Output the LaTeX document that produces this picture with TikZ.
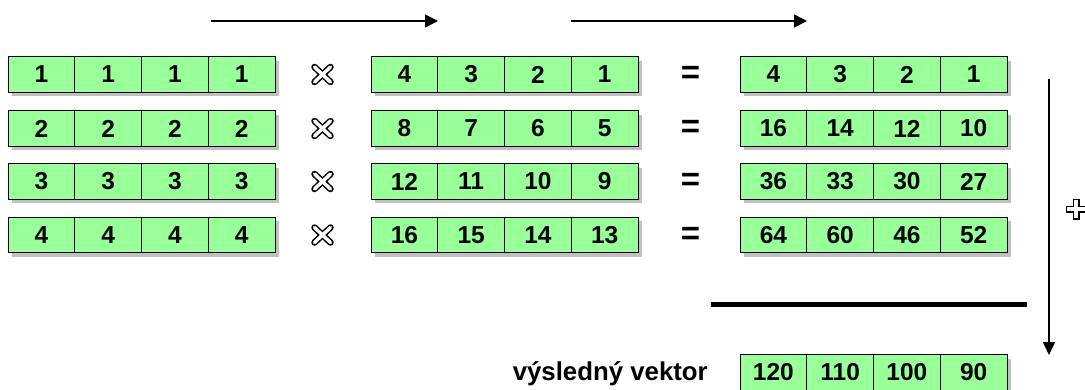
\documentclass[tikz,border=0pt]{standalone}
\usepackage{fontspec}
\setmainfont{Liberation Sans}
\usetikzlibrary{arrows.meta}
\definecolor{cellgreen}{RGB}{153,255,153}
\definecolor{shadowgray}{RGB}{192,192,192}
\tikzset{
  cell/.style={draw=black, line width=1pt, fill=cellgreen, minimum width=66.75pt,
    minimum height=35.5pt, inner sep=0pt, font=\fontsize{24.5}{24.5}\selectfont\bfseries},
  flow/.style={line width=1.5pt, -{Triangle[length=13pt,width=13pt]}},
  eqsign/.style={font=\fontsize{33}{33}\selectfont\bfseries, inner sep=0pt},
  label/.style={font=\fontsize{25.8}{25.8}\selectfont\bfseries, inner sep=0pt},
  rule/.style={line width=5pt},
}
\newcommand\cellrow[4]{%
  \fill[shadowgray] ({#2+4},{#3-17.75+4}) rectangle ({#2+267+4},{#3+17.75+4});
  \foreach \v [count=\i] in {#4} {
    \node[cell] (#1-\i) at ({#2+66.75*(\i-0.5)},#3) {\v};
  }
}
\newcommand\timesmark[2]{%
  \draw[line width=6.5pt, line cap=round] (#1-8,#2-7.5) -- (#1+8,#2+7.5)
    (#1-8,#2+7.5) -- (#1+8,#2-7.5);
  \draw[line width=3.5pt, line cap=round, white] (#1-8,#2-7.5) -- (#1+8,#2+7.5)
    (#1-8,#2+7.5) -- (#1+8,#2-7.5);
}
\begin{document}
\begin{tikzpicture}[x=1pt, y=-1pt]
\useasboundingbox (0,0) rectangle (1085,389);
% top arrows
\coordinate (t1s) at (211,21);
\coordinate (t1e) at (438,21);
\coordinate (t2s) at (571,21);
\coordinate (t2e) at (807,21);
\draw[flow] (t1s) -- (t1e);
\draw[flow] (t2s) -- (t2e);
% rows
\cellrow{a1}{8}{74.5}{1,1,1,1}
\cellrow{a2}{8}{128.5}{2,2,2,2}
\cellrow{a3}{8}{181.5}{3,3,3,3}
\cellrow{a4}{8}{235}{4,4,4,4}
\cellrow{b1}{371}{74.5}{4,3,2,1}
\cellrow{b2}{371}{128.5}{8,7,6,5}
\cellrow{b3}{371}{181.5}{12,11,10,9}
\cellrow{b4}{371}{235}{16,15,14,13}
\cellrow{c1}{740}{74.5}{4,3,2,1}
\cellrow{c2}{740}{128.5}{16,14,12,10}
\cellrow{c3}{740}{181.5}{36,33,30,27}
\cellrow{c4}{740}{235}{64,60,46,52}
\cellrow{r}{740}{372.5}{120,110,100,90}
% operators
\timesmark{322.5}{74.5}
\timesmark{322.5}{128.5}
\timesmark{322.5}{181.5}
\timesmark{322.5}{235}
\node[eqsign] (e1) at (690.5,75) {=};
\node[eqsign] (e2) at (690.5,129) {=};
\node[eqsign] (e3) at (690.5,182) {=};
\node[eqsign] (e4) at (690.5,235.5) {=};
% plus sign
\draw[line width=7pt, line cap=rect] (1069,209) -- (1083,209) (1076,202) -- (1076,216);
\draw[line width=4pt, line cap=rect, white] (1069,209) -- (1083,209) (1076,202) -- (1076,216);
% vertical sum arrow
\coordinate (vs) at (1049,79);
\coordinate (ve) at (1049,355);
\draw[line width=1.5pt, -{Triangle[length=13pt,width=12pt]}] (vs) -- (ve);
% thick rule
\coordinate (hs) at (711,304);
\coordinate (he) at (1027,304);
\draw[rule] (hs) -- (he);
% label
\node[label, anchor=base east] (lab) at (708,380) {výsledný vektor};
\end{tikzpicture}
\end{document}
